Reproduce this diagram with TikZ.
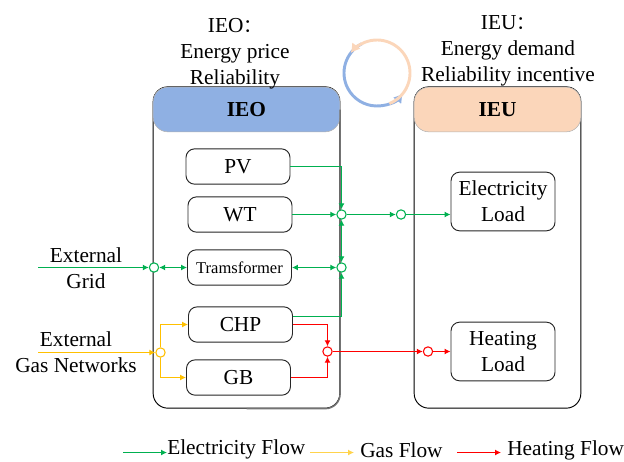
\documentclass[tikz,border=0pt]{standalone}
\usepackage{fontspec}
\setmainfont{Liberation Serif}
\newfontfamily\cjkfont{Noto Sans CJK SC}
\usetikzlibrary{arrows.meta, calc}
\definecolor{ieoBlue}{RGB}{143, 176, 227}
\definecolor{ieuPeach}{RGB}{251, 214, 186}
\definecolor{elecGreen}{RGB}{0, 176, 80}
\definecolor{gasYellow}{RGB}{255, 192, 0}
\definecolor{heatRed}{RGB}{255, 0, 0}
\tikzset{
    base/.style={
        font=\fontsize{16}{19.5}\selectfont,
        align=center
    },
    panel/.style={
        rectangle,
        rounded corners=11pt,
        draw=black,
        line width=0.7pt,
        fill=white,
        inner sep=0pt
    },
    header/.style={
        base,
        rectangle,
        rounded corners=11pt,
        draw=black!30,
        line width=0.4pt,
        font=\fontsize{16}{19.5}\selectfont\bfseries,
        minimum height=33.5pt,
        inner sep=0pt
    },
    device/.style={
        base,
        rectangle,
        rounded corners=6.5pt,
        draw=black!85,
        line width=0.7pt,
        fill=white,
        minimum width=78pt,
        minimum height=26.5pt,
        inner sep=0pt
    },
    loadbox/.style={
        device,
        minimum height=44pt
    },
    caption/.style={
        base,
        inner sep=0pt
    },
    junction/.style={
        circle,
        draw=#1,
        line width=0.8pt,
        fill=white,
        minimum size=7pt,
        inner sep=0pt
    },
    flow/.style={
        -{Latex[length=4.5pt,width=4.5pt]},
        line width=0.85pt,
        color=#1
    },
    biflow/.style={
        {Latex[length=4.5pt,width=4.5pt]}-{Latex[length=4.5pt,width=4.5pt]},
        line width=0.85pt,
        color=#1
    }
}
\begin{document}
\begin{tikzpicture}[x=0.75pt,y=-0.75pt]
    \useasboundingbox (0,0) rectangle (624,461);

    % Panels
    \node[panel, minimum width=140pt, minimum height=241pt] (ieoBox) at (246.5,247.5) {};
    \node[panel, minimum width=125pt, minimum height=241pt] (ieuBox) at (497.5,247.5) {};
    \node[header, fill=ieoBlue, minimum width=140pt] (ieoHead) at (246.5,109.5) {IEO};
    \node[header, fill=ieuPeach, minimum width=125pt] (ieuHead) at (497.5,109.5) {IEU};
    \draw[black!55, line width=1.1pt, rounded corners=11pt] (ieoHead.east) |- (ieoBox.south);

    % Captions
    \node[caption] (ieoText) at (235,53.5) {IEO{\cjkfont\fontsize{14}{14}\selectfont ：}\\Energy price\\Reliability};
    \node[caption] (ieuText) at (508,51) {IEU{\cjkfont\fontsize{14}{14}\selectfont ：}\\Energy demand\\Reliability incentive};

    % Cycle between the two sides
    \coordinate (cycleMid) at (377,73);
    \draw[ieoBlue, line width=2.2pt, -{Latex[length=7pt,width=8pt]}] (cycleMid) ++(-118:33) arc[start angle=-118, end angle=-322, radius=33];
    \draw[ieuPeach, line width=2.2pt, -{Latex[length=7pt,width=8pt]}] (cycleMid) ++(68:33) arc[start angle=68, end angle=-143, radius=33];

    % Devices
    \node[device] (pv) at (238,166.5) {PV};
    \node[device] (wt) at (240,214.5) {WT};
    \node[device, font=\fontsize{12.4}{14}\selectfont] (trans) at (239.5,267.5) {Tramsformer};
    \node[device] (chp) at (240.5,324.5) {CHP};
    \node[device] (gb) at (238.5,377.5) {GB};
    \node[loadbox] (elecLoad) at (503,201.5) {Electricity\\Load};
    \node[loadbox] (heatLoad) at (503,351.5) {Heating\\Load};

    % External sources
    \node[caption] (gridText) at (86,268.5) {External\\Grid};
    \node[caption] (gasText) at (76,352.5) {External\\Gas Networks};
    \coordinate (gridIn) at (38,267.5);
    \coordinate (gasIn) at (38,352.5);

    % Junctions
    \node[junction=elecGreen] (jWt) at (341.5,214.5) {};
    \node[junction=elecGreen] (jTrans) at (341.5,267.5) {};
    \node[junction=elecGreen] (jGrid) at (154,267.5) {};
    \node[junction=elecGreen] (jLoad) at (401,214.5) {};
    \node[junction=gasYellow] (jGas) at (160.5,352.5) {};
    \node[junction=heatRed] (jHeat) at (327.5,351.5) {};
    \node[junction=heatRed] (jHeatLoad) at (428,351.5) {};

    % Electricity
    \draw[flow=elecGreen] (pv.east) -| (jWt.north);
    \draw[flow=elecGreen] (wt.east) -- (jWt.west);
    \draw[biflow=elecGreen] (jTrans.north) -- (jWt.south);
    \draw[biflow=elecGreen] (trans.east) -- (jTrans.west);
    \coordinate (chpElec) at (chp.east |- 0,316.5);
    \draw[flow=elecGreen] (chpElec) -| (jTrans.south);
    \draw[flow=elecGreen] (jWt.east) -- (jLoad.west);
    \draw[flow=elecGreen] (jLoad.east) -- (jLoad.east -| elecLoad.west);
    \draw[flow=elecGreen] (gridIn) -- (jGrid.west);
    \draw[biflow=elecGreen] (jGrid.east) -- (trans.west);

    % Gas
    \draw[flow=gasYellow] (gasIn) -- (jGas.west);
    \draw[flow=gasYellow] (jGas.north) |- (chp.west);
    \draw[flow=gasYellow] (jGas.south) |- (gb.west);

    % Heat
    \coordinate (chpHeat) at (chp.east |- 0,324.5);
    \draw[flow=heatRed] (chpHeat) -| (jHeat.north);
    \draw[flow=heatRed] (gb.east) -| (jHeat.south);
    \draw[flow=heatRed] (jHeat.east) -- (jHeatLoad.west);
    \draw[flow=heatRed] (jHeatLoad.east) -- (heatLoad.west);

    % Legend
    \coordinate (elecA) at (123,452.5);
    \coordinate (elecB) at (167,452.5);
    \coordinate (gasA) at (310,452.5);
    \coordinate (gasB) at (354,452.5);
    \coordinate (heatA) at (457,452.5);
    \coordinate (heatB) at (501,452.5);
    \draw[flow=elecGreen] (elecA) -- (elecB);
    \draw[flow=gasYellow!70] (gasA) -- (gasB);
    \draw[flow=heatRed] (heatA) -- (heatB);
    \node[caption, anchor=west] (elecText) at (167,449) {Electricity Flow};
    \node[caption, anchor=west] (gasText2) at (360,450) {Gas Flow};
    \node[caption, anchor=west] (heatText) at (507,450) {Heating Flow};
\end{tikzpicture}
\end{document}
